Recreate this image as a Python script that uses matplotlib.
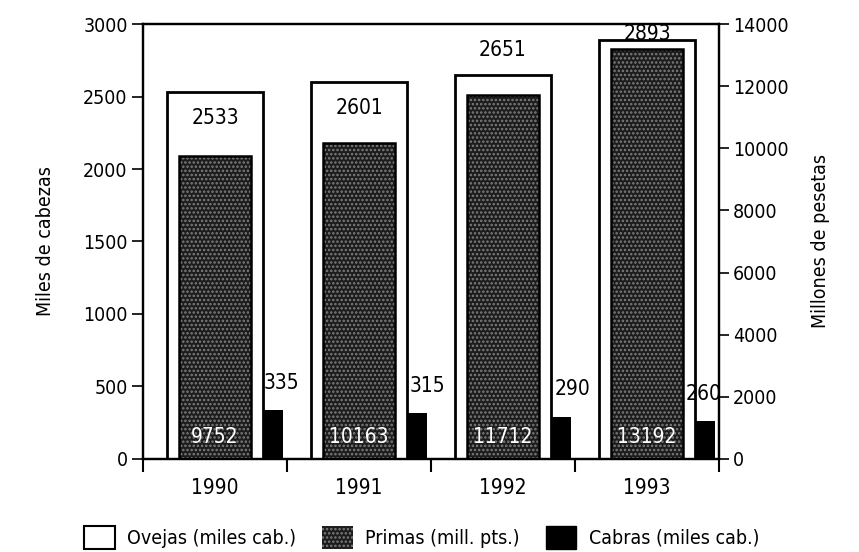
import numpy as np
import matplotlib.pyplot as plt
from matplotlib.patches import Patch

plt.rcParams['font.family'] = ['DejaVu Sans']
plt.rcParams['font.stretch'] = 'condensed'
plt.rcParams['hatch.linewidth'] = 1.2

# Data
years = ['1990', '1991', '1992', '1993']
ovejas = [2533, 2601, 2651, 2893]      # miles de cabezas (eje izq.)
primas = [9752, 10163, 11712, 13192]   # millones de pesetas (eje der.)
cabras = [335, 315, 290, 260]          # miles de cabezas (eje izq.)

# label nudges (points), as placed in the original
ovejas_off = [-19, -19, 18, 4]
cabras_dx = [6, 7, 8, -1]

x = np.arange(len(years))
fs = 14

fig = plt.figure(figsize=(8.59, 5.52), dpi=100)
ax = fig.add_axes([0.1665, 0.1685, 0.6705, 0.788])
ax2 = ax.twinx()

# Ovejas: white boxes
ax.bar(x + 0.5, ovejas, width=0.67, facecolor='white', edgecolor='black',
       linewidth=2, zorder=2)
# Cabras: small black bars at the right of each box
ax.bar(x + 0.835, cabras, width=0.14, align='edge', color='black', zorder=3)

# Primas: dark stippled bars on the right axis
ax2.bar(x + 0.5, primas, width=0.5, facecolor='#1c1c1c', edgecolor='#7e7e7e',
        hatch='....', linewidth=0, zorder=2)
ax2.bar(x + 0.5, primas, width=0.5, fill=False, edgecolor='black',
        linewidth=1.8, zorder=3)

for i in range(len(years)):
    ax.annotate(str(ovejas[i]), (x[i] + 0.5, ovejas[i]), xytext=(0, ovejas_off[i]),
                textcoords='offset points', ha='center', va='center', fontsize=15,
                zorder=5)
    ax.annotate(str(cabras[i]), (x[i] + 0.905, cabras[i]), xytext=(cabras_dx[i], 20),
                textcoords='offset points', ha='center', va='center', fontsize=15,
                zorder=5)
    ax2.annotate(str(primas[i]), (x[i] + 0.5, 0), xytext=(0, 16),
                 textcoords='offset points', ha='center', va='center', fontsize=15,
                 color='white', zorder=5)

ax.set_xlim(0, 4)
ax.set_ylim(0, 3000)
ax2.set_ylim(0, 14000)
ax.set_yticks(np.arange(0, 3001, 500))
ax2.set_yticks(np.arange(0, 14001, 2000))

ax.set_xticks(np.arange(0, 5))
ax.set_xticklabels([])
ax.set_xticks(x + 0.5, minor=True)
ax.set_xticklabels(years, minor=True)
ax.tick_params(axis='x', which='minor', length=0, pad=14, labelsize=15)
ax.tick_params(axis='x', which='major', length=9, width=1.5, direction='out')
ax.tick_params(axis='y', length=8, width=1.2, labelsize=fs, pad=3)
ax2.tick_params(axis='y', length=7, width=1.2, labelsize=fs, pad=3)

for a in (ax, ax2):
    for s in a.spines.values():
        s.set_linewidth(1.6)

ax.set_ylabel('Miles de cabezas', fontsize=fs, labelpad=20)
ax2.set_ylabel('Millones de pesetas', fontsize=fs, labelpad=16)

handles = [
    Patch(facecolor='white', edgecolor='black', linewidth=1.5),
    Patch(facecolor='#1c1c1c', edgecolor='#7e7e7e', hatch='....', linewidth=0),
    Patch(facecolor='black', edgecolor='black'),
]
labels = ['Ovejas (miles cab.)', 'Primas (mill. pts.)', 'Cabras (miles cab.)']
fig.legend(handles, labels, loc='center', bbox_to_anchor=(0.491, 0.027), ncol=3,
           frameon=False, fontsize=fs, handlelength=1.55, handleheight=1.45,
           handletextpad=0.65, columnspacing=1.35)

fig.savefig('out.png', dpi=100)
